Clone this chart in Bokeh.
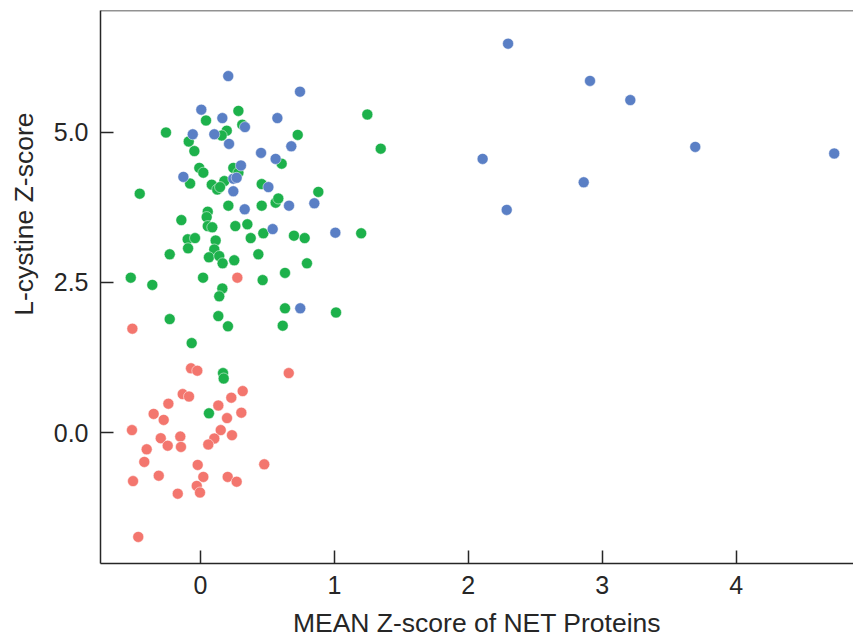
from bokeh.plotting import figure
from bokeh.models import FixedTicker, PrintfTickFormatter, Span, Title, Range1d
from bokeh.embed import file_html
from bokeh.resources import INLINE

# ---- data ----
red_x = [0.275, -0.509, -0.071, -0.024, 0.659, 0.315, -0.133, -0.086, 0.23, -0.24, 0.133, -0.35,
         -0.275, 0.305, 0.198, -0.512, 0.151, 0.235, -0.297, -0.151, 0.103, 0.058, -0.245, -0.146,
         -0.402, -0.42, -0.021, 0.476, -0.504, -0.312, 0.021, 0.203, 0.27, -0.028, -0.004, -0.17, -0.465]
red_y = [2.58, 1.73, 1.07, 1.03, 0.99, 0.69, 0.64, 0.60, 0.58, 0.48, 0.45, 0.31,
         0.21, 0.33, 0.24, 0.04, 0.04, -0.045, -0.095, -0.067, -0.10, -0.20, -0.22, -0.24,
         -0.28, -0.49, -0.54, -0.53, -0.81, -0.72, -0.74, -0.74, -0.82, -0.89, -1.00, -1.02, -1.74]

green_x = [0.283, 0.041, 0.312, 0.196, 0.158, -0.258, 1.246, 1.346, 0.726, -0.088, -0.046, 0.606,
           -0.009, 0.021, 0.245, 0.283, -0.078, 0.084, 0.178, 0.125, 0.146, 0.457, -0.454, 0.88,
           0.561, 0.581, 0.208, 0.457, -0.143, 0.054, 0.046, 0.054, 0.088, 0.26, 0.35, 0.375,
           0.469, 0.698, 0.778, 1.2, -0.096, -0.041, 0.113, -0.093, 0.103, -0.23, 0.063, 0.14,
           0.165, 0.252, 0.432, 0.795, -0.521, -0.36, 0.019, 0.464, 0.631, 0.163, 0.14, 0.631,
           1.012, -0.23, 0.133, 0.205, 0.614, -0.066, 0.168, 0.173, 0.063]
green_y = [5.36, 5.20, 5.13, 5.03, 4.95, 5.00, 5.30, 4.73, 4.96, 4.85, 4.69, 4.48,
           4.41, 4.33, 4.41, 4.33, 4.15, 4.13, 4.19, 4.05, 4.09, 4.14, 3.98, 4.01,
           3.83, 3.90, 3.78, 3.78, 3.54, 3.68, 3.59, 3.44, 3.42, 3.44, 3.47, 3.24,
           3.32, 3.28, 3.24, 3.32, 3.22, 3.24, 3.20, 3.07, 3.05, 2.97, 2.92, 2.94,
           2.82, 2.87, 2.97, 2.82, 2.58, 2.46, 2.58, 2.54, 2.66, 2.40, 2.27, 2.07,
           2.00, 1.89, 1.94, 1.77, 1.78, 1.49, 0.99, 0.90, 0.32]

blue_x = [0.207, 0.743, 0.006, 0.163, 0.574, -0.058, 0.103, 0.332, 0.213, 0.678, 0.452, 0.561,
          0.302, -0.128, 0.245, 0.27, 0.245, 0.507, 0.33, 0.661, 0.85, 0.539, 1.007, 0.745,
          2.297, 2.909, 3.21, 2.107, 3.695, 4.733, 2.862, 2.287]
blue_y = [5.94, 5.68, 5.38, 5.24, 5.24, 4.97, 4.97, 5.09, 4.81, 4.77, 4.66, 4.56,
          4.45, 4.26, 4.23, 4.245, 4.02, 4.09, 3.72, 3.78, 3.82, 3.39, 3.33, 2.07,
          6.48, 5.86, 5.54, 4.56, 4.76, 4.65, 4.17, 3.71]

x_ticks = [0, 1, 2, 3, 4]
y_ticks = [0.0, 2.5, 5.0]
x_label = "MEAN Z-score of NET Proteins"
y_label = "L-cystine Z-score"

RED = "#F3766E"
GREEN = "#1DB14B"
BLUE = "#5A7FC5"
FONT = "Liberation Sans"
TXT = "#262626"

p = figure(width=853, height=640, output_backend="svg", toolbar_location=None,
           x_range=Range1d(-0.747, 4.877), y_range=Range1d(-2.183, 7.033),
           min_border_left=100, min_border_right=0, min_border_top=10, min_border_bottom=77)
p.outline_line_color = None
p.grid.visible = False
p.background_fill_color = "white"
p.border_fill_color = "white"

for ax in (p.xaxis[0], p.yaxis[0]):
    ax.axis_line_color = TXT
    ax.axis_line_width = 1.5
    ax.major_tick_line_color = TXT
    ax.major_tick_line_width = 1.5
    ax.major_tick_in = 13
    ax.major_tick_out = 0
    ax.minor_tick_line_color = None
    ax.major_label_text_font = FONT
    ax.major_label_text_font_size = "25px"
    ax.major_label_text_color = TXT
    ax.major_label_standoff = 12

p.xaxis.ticker = FixedTicker(ticks=x_ticks)
p.yaxis.ticker = FixedTicker(ticks=y_ticks)
p.xaxis.formatter = PrintfTickFormatter(format="%d")
p.yaxis.formatter = PrintfTickFormatter(format="%.1f")

p.xaxis.axis_label = x_label
p.xaxis.axis_label_text_font = FONT
p.xaxis.axis_label_text_font_size = "26.5px"
p.xaxis.axis_label_text_font_style = "normal"
p.xaxis.axis_label_text_color = TXT
p.xaxis.axis_label_standoff = 11

# small spacer so the rotated y title sits further left, as in the reference
p.yaxis.axis_label = " "
p.yaxis.axis_label_text_font_size = "1px"
p.yaxis.axis_label_standoff = 3

p.add_layout(Title(text=y_label, align="right", text_font=FONT, text_font_size="26.5px",
                   text_font_style="normal", text_color=TXT, offset=102), "left")

p.add_layout(Span(location=7.033, dimension="width", line_color=TXT, line_width=1.5))

for xs, ys, c in ((red_x, red_y, RED), (green_x, green_y, GREEN), (blue_x, blue_y, BLUE)):
    p.scatter(xs, ys, size=11, fill_color=c, line_color="white", line_width=0.5)

open("out.html", "w").write(file_html(p, INLINE))
